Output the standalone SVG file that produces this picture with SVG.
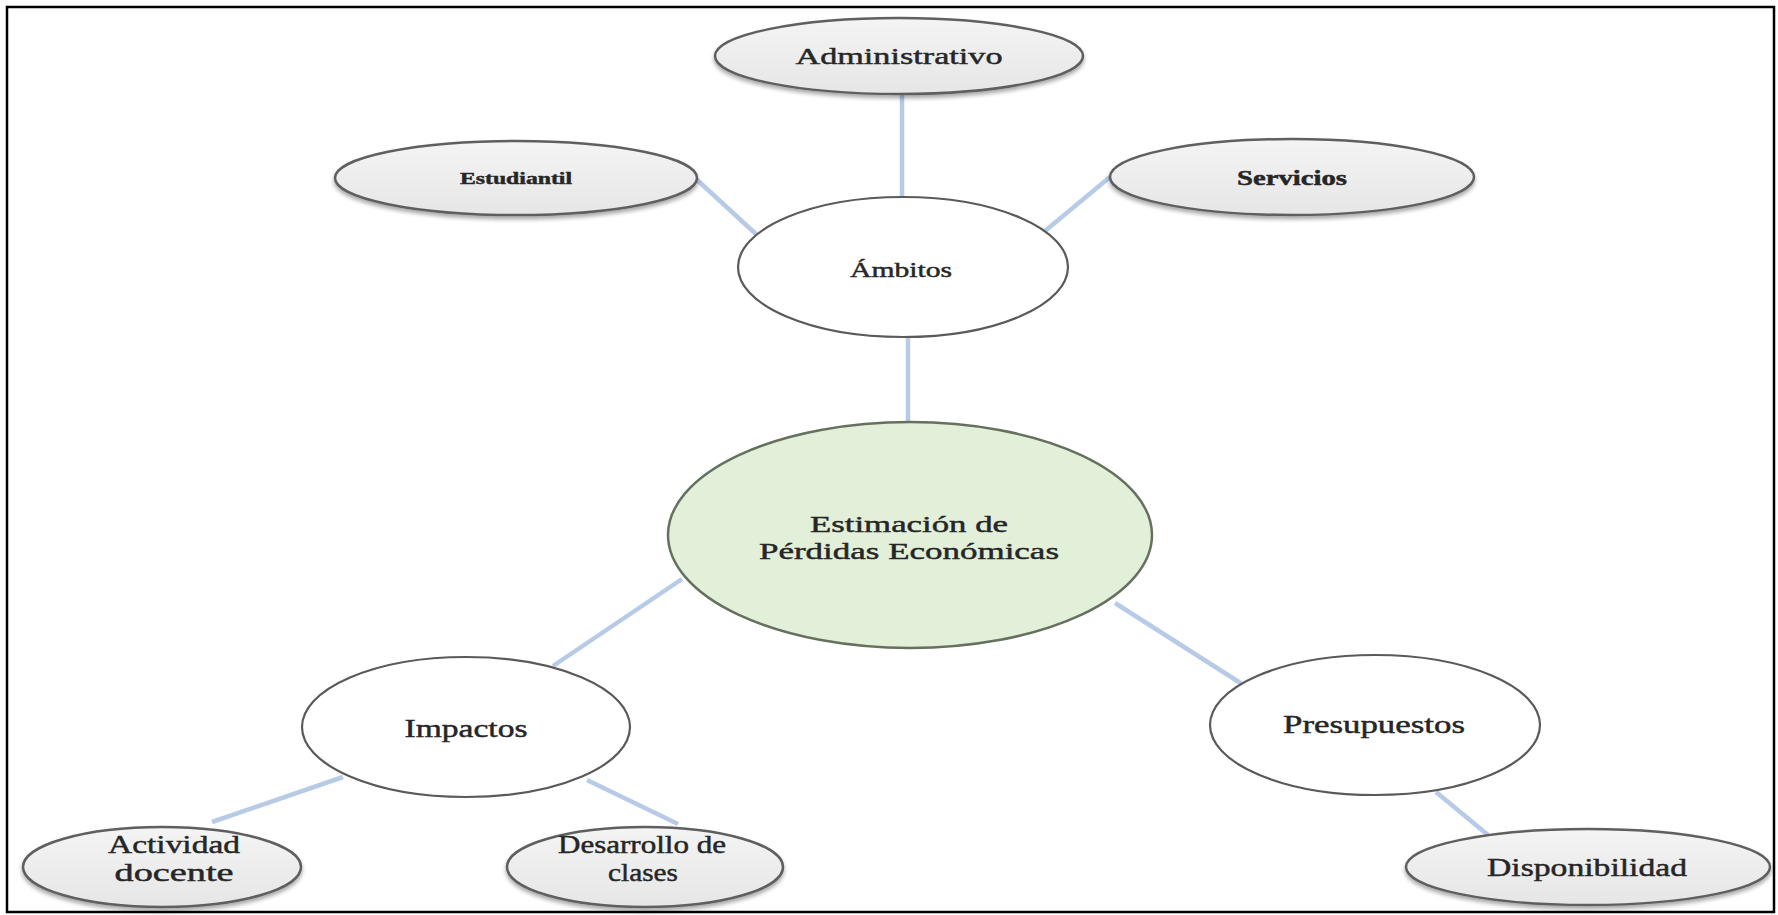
<svg xmlns="http://www.w3.org/2000/svg" width="1778" height="915" viewBox="0 0 1778 915">
  <defs>
    <linearGradient id="greyFill" x1="0" y1="0" x2="0" y2="1">
      <stop offset="0" stop-color="#f4f4f4"/>
      <stop offset="1" stop-color="#e6e6e6"/>
    </linearGradient>
    <filter id="shadow" x="-10%" y="-20%" width="120%" height="150%">
      <feGaussianBlur in="SourceAlpha" stdDeviation="2"/>
      <feOffset dx="0" dy="3" result="b"/>
      <feComponentTransfer><feFuncA type="linear" slope="0.35"/></feComponentTransfer>
      <feMerge><feMergeNode/><feMergeNode in="SourceGraphic"/></feMerge>
    </filter>
    <style>
      .frame { fill: #ffffff; stroke: #000000; stroke-width: 2.5; }
      .leaf { fill: url(#greyFill); stroke: #5f5f5f; stroke-width: 2.5; filter: url(#shadow); }
      .hub { fill: #ffffff; stroke: #5a5a5a; stroke-width: 2.2; }
      .core { fill: #e2efd9; stroke: #66705f; stroke-width: 2.5; }
      .link { stroke: #b7cbe6; stroke-width: 4.5; stroke-linecap: butt; fill: none; }
      text { font-family: "Liberation Serif", "Times New Roman", serif; fill: #262626; stroke: #262626; stroke-width: 0.45; text-anchor: middle; }
    </style>
  </defs>

  <rect class="frame" x="7" y="7" width="1767" height="905"/>

  <g id="connectors">
    <line class="link" x1="902" y1="95" x2="902" y2="198"/>
    <line class="link" x1="695" y1="178" x2="757" y2="235"/>
    <line class="link" x1="1110" y1="177" x2="1045" y2="231"/>
    <line class="link" x1="908" y1="337" x2="908" y2="423"/>
    <line class="link" x1="682" y1="579" x2="553" y2="666"/>
    <line class="link" x1="1115" y1="603" x2="1242" y2="684"/>
    <line class="link" x1="343" y1="777" x2="212" y2="822"/>
    <line class="link" x1="587" y1="780" x2="678" y2="824"/>
    <line class="link" x1="1436" y1="792" x2="1488" y2="835"/>
  </g>

  <g id="node-administrativo">
    <ellipse class="leaf" cx="899" cy="56" rx="184" ry="38"/>
    <text x="899" y="64" font-size="24" textLength="207" lengthAdjust="spacingAndGlyphs">Administrativo</text>
  </g>

  <g id="node-estudiantil">
    <ellipse class="leaf" cx="516" cy="178" rx="181" ry="37"/>
    <text x="516" y="184" font-size="17" font-weight="bold" textLength="112" lengthAdjust="spacingAndGlyphs">Estudiantil</text>
  </g>

  <g id="node-servicios">
    <ellipse class="leaf" cx="1292" cy="177" rx="182" ry="38"/>
    <text x="1292" y="185" font-size="20" font-weight="bold" textLength="110" lengthAdjust="spacingAndGlyphs">Servicios</text>
  </g>

  <g id="node-ambitos">
    <ellipse class="hub" cx="903" cy="267" rx="165" ry="70"/>
    <text x="901" y="277" font-size="22" textLength="102" lengthAdjust="spacingAndGlyphs">Ámbitos</text>
  </g>

  <g id="node-estimacion">
    <ellipse class="core" cx="910" cy="535" rx="242" ry="113"/>
    <text x="909" y="532" font-size="24" textLength="198" lengthAdjust="spacingAndGlyphs">Estimación de</text>
    <text x="909" y="559" font-size="24" textLength="300" lengthAdjust="spacingAndGlyphs">Pérdidas Económicas</text>
  </g>

  <g id="node-impactos">
    <ellipse class="hub" cx="466" cy="727" rx="164" ry="70"/>
    <text x="466" y="737" font-size="25" textLength="123" lengthAdjust="spacingAndGlyphs">Impactos</text>
  </g>

  <g id="node-presupuestos">
    <ellipse class="hub" cx="1375" cy="725" rx="165" ry="70"/>
    <text x="1374" y="733" font-size="25" textLength="182" lengthAdjust="spacingAndGlyphs">Presupuestos</text>
  </g>

  <g id="node-actividad">
    <ellipse class="leaf" cx="162" cy="867" rx="139" ry="40"/>
    <text x="174" y="853" font-size="25" textLength="132" lengthAdjust="spacingAndGlyphs">Actividad</text>
    <text x="174" y="881" font-size="25" textLength="119" lengthAdjust="spacingAndGlyphs">docente</text>
  </g>

  <g id="node-desarrollo">
    <ellipse class="leaf" cx="645" cy="867" rx="138" ry="40"/>
    <text x="642" y="853" font-size="25" textLength="168" lengthAdjust="spacingAndGlyphs">Desarrollo de</text>
    <text x="643" y="881" font-size="26" textLength="70" lengthAdjust="spacingAndGlyphs">clases</text>
  </g>

  <g id="node-disponibilidad">
    <ellipse class="leaf" cx="1588" cy="867" rx="182" ry="38"/>
    <text x="1587" y="876" font-size="25" textLength="200" lengthAdjust="spacingAndGlyphs">Disponibilidad</text>
  </g>
</svg>
